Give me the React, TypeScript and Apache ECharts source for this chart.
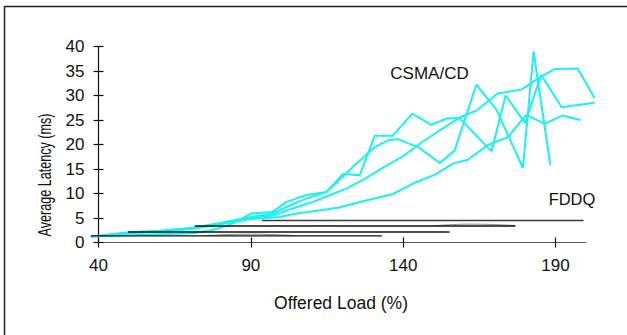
import React, { useEffect, useRef } from "react";
import * as echarts from "echarts";

// ---- data (offered load %, average latency ms) ----
const xTicks = [40, 90, 140, 190];
const yTicks = [0, 5, 10, 15, 20, 25, 30, 35, 40];

const csma1: number[][] = [
  [37.5, 1.2], [50, 1.5], [60, 1.7], [71, 1.9], [77, 2.5], [82, 3.4], [86, 4.4], [90, 5.9], [97, 6.2],
  [101.7, 8.3], [108.3, 9.7], [114.8, 10.3], [120.3, 14.0], [125.7, 13.7], [130.7, 21.8], [136.6, 21.8],
  [143, 26.3], [149.2, 24.0], [154.2, 25.3], [158.5, 25.4], [169, 18.6], [173.6, 30.0], [180, 24.4],
  [185.3, 34.2], [192, 27.6], [202.8, 28.5],
];
const csma2: number[][] = [
  [37.5, 1.2], [50, 2.1], [60, 2.4], [71, 3.0], [80, 4.0], [90, 5.2], [97, 5.9], [103, 7.6], [108.3, 9.0],
  [114.8, 10.3], [123.8, 15.6], [130.7, 19.5], [135, 20.8], [138.3, 21.1], [145.4, 19.3], [152, 16.2],
  [156.9, 18.8], [164, 32.2], [170.6, 27.1], [179.3, 15.2], [182.8, 39.0], [188.3, 15.8],
];
const csma3: number[][] = [
  [37.5, 1.2], [50, 2.0], [60, 2.3], [71, 2.9], [80, 3.9], [90, 5.0], [97, 5.5], [103, 6.8], [110, 8.2],
  [116, 9.7], [121.4, 11.0], [127.4, 13.0], [133.4, 15.3], [139.9, 17.6], [146, 20.4], [152, 22.9],
  [158.5, 25.5], [164, 26.9], [171, 30.4], [178.8, 31.2], [185.3, 33.9], [189.7, 35.4], [197.3, 35.5],
  [202.8, 29.5],
];
const csma4: number[][] = [
  [37.5, 1.2], [50, 1.9], [60, 2.2], [71, 2.8], [80, 3.7], [90, 4.8], [99.5, 5.2], [104, 5.8],
  [110.4, 6.4], [118.6, 7.1], [126.8, 8.4], [136.7, 9.9], [143.8, 12.2], [150.3, 13.8], [156.3, 16.1],
  [161.2, 16.9], [167.8, 19.9], [174.4, 21.5], [180.4, 26.1], [186.4, 24.2], [192.2, 25.9], [198.2, 25.0],
];

const fddq1: number[][] = [[37.5, 1.35], [133, 1.35]];
const fddq2: number[][] = [[49.7, 2.15], [155.2, 2.15]];
const fddq3: number[][] = [[71.6, 3.37], [176.8, 3.37]];
const fddq4: number[][] = [[93.6, 4.5], [199.2, 4.5]];
const fddqRaw1: number[][] = [[75, 1.4], [90, 1.7], [105, 1.4]];
const fddqRaw3: number[][] = [[150, 3.4], [162, 3.75], [176.8, 3.45]];

const csmaSets = [csma1, csma2, csma3, csma4];
const fddqSets = [fddq1, fddq2, fddq3, fddq4];

const FONT = '"Liberation Sans", Arial, sans-serif';
const CYAN = "#17f2f2";

// layout of the visible axes (40..200) and of a wider hidden data frame (36..204) sharing the same scale
const AX_LEFT = 98.5;
const AX_RIGHT_PX = 586;
const PX_PER = (AX_RIGHT_PX - AX_LEFT) / 160;
const D_MIN = 36;
const D_MAX = 204;

export default function App() {
  const ref = useRef<HTMLDivElement>(null);
  useEffect(() => {
    if (!ref.current) return;
    const chart = echarts.init(ref.current, null, { renderer: "svg" });
    const series: any[] = [];
    const common = { xAxisIndex: 2, yAxisIndex: 2, showSymbol: false, clip: false, type: "line" };
    csmaSets.forEach((d, i) => {
      series.push({ ...common, name: "CSMA/CD " + (i + 1), data: d, lineStyle: { color: CYAN, width: 2 }, z: 2 });
    });
    [fddqRaw1, fddqRaw3].forEach((d, i) => {
      series.push({ ...common, name: "FDDQ raw " + (i + 1), data: d, smooth: true, lineStyle: { color: "#8a8a8a", width: 1 }, z: 3 });
    });
    fddqSets.forEach((d, i) => {
      series.push({ ...common, name: "FDDQ " + (i + 1), data: d, lineStyle: { color: i === 3 ? "#3a3a3a" : "#111", width: 1.4 }, z: 4 });
    });
    const dataLeft = AX_LEFT - (40 - D_MIN) * PX_PER;
    const dataRight = 627 - (AX_RIGHT_PX + (D_MAX - 200) * PX_PER);
    chart.setOption({
      animation: false,
      backgroundColor: "#fff",
      grid: [
        { left: AX_LEFT, right: 627 - AX_RIGHT_PX, top: 46.5, bottom: 92.5, containLabel: false },
        { left: dataLeft, right: dataRight, top: 46.5, bottom: 92.5, containLabel: false },
      ],
      xAxis: [
        {
          type: "value", gridIndex: 0, min: 40, max: 200, interval: 50,
          axisLine: { show: true, lineStyle: { color: "#555", width: 1.2 } },
          axisTick: { show: true, length: 5, customValues: xTicks, lineStyle: { color: "#111", width: 1.2 } },
          axisLabel: { customValues: xTicks, margin: 14, fontFamily: FONT, fontSize: 17, color: "#111" },
          splitLine: { show: false },
        },
        {
          type: "value", gridIndex: 0, min: 40, max: 200, interval: 50, position: "bottom",
          axisLine: { show: false },
          axisTick: { show: true, inside: true, length: 5, customValues: xTicks, lineStyle: { color: "#111", width: 1.2 } },
          axisLabel: { show: false },
          splitLine: { show: false },
        },
        {
          type: "value", gridIndex: 1, min: D_MIN, max: D_MAX, show: false, splitLine: { show: false },
        },
      ],
      yAxis: [
        {
          type: "value", gridIndex: 0, min: 0, max: 40, interval: 5,
          axisLine: { show: true, lineStyle: { color: "#111", width: 1.2 } },
          axisTick: { show: true, length: 5, customValues: yTicks, lineStyle: { color: "#111", width: 1.2 } },
          axisLabel: { customValues: yTicks, margin: 14, fontFamily: FONT, fontSize: 17, color: "#111" },
          splitLine: { show: false },
        },
        {
          type: "value", gridIndex: 0, min: 0, max: 40, interval: 5, position: "left",
          axisLine: { show: false },
          axisTick: { show: true, inside: true, length: 5, customValues: yTicks, lineStyle: { color: "#111", width: 1.2 } },
          axisLabel: { show: false },
          splitLine: { show: false },
        },
        {
          type: "value", gridIndex: 1, min: 0, max: 40, show: false, splitLine: { show: false },
        },
      ],
      graphic: [
        { type: "rect", shape: { x: 4.5, y: 6.5, width: 700, height: 400 }, style: { fill: "none", stroke: "#222", lineWidth: 1.5 }, silent: true },
        { type: "text", x: 341, y: 303, style: { text: "Offered Load (%)", font: `17.5px ${FONT}`, fill: "#111", align: "center", verticalAlign: "middle" } },
        { type: "text", x: 45, y: 175, rotation: Math.PI / 2, scaleX: 0.7, style: { text: "Average Latency (ms)", font: `18px ${FONT}`, fill: "#111", align: "center", verticalAlign: "middle" } },
        { type: "text", x: 429.5, y: 73, style: { text: "CSMA/CD", font: `17px ${FONT}`, fill: "#111", align: "center", verticalAlign: "middle" } },
        { type: "text", x: 572, y: 199, style: { text: "FDDQ", font: `16.5px ${FONT}`, fill: "#111", align: "center", verticalAlign: "middle" } },
      ],
      series,
    });
    return () => chart.dispose();
  }, []);
  return <div ref={ref} style={{ position: "fixed", left: 0, top: 0, width: 627, height: 335 }} />;
}
